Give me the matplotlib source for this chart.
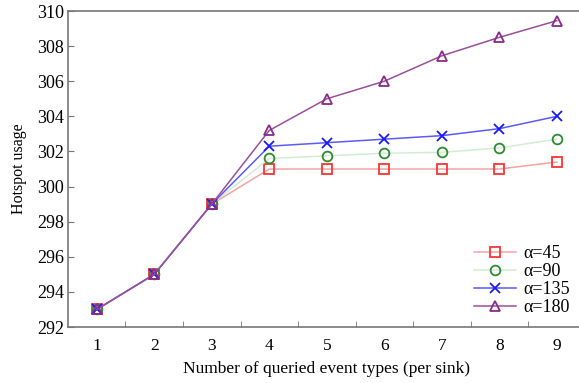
import matplotlib
matplotlib.use("Agg")
import matplotlib.pyplot as plt
import numpy as np

# Hotspot usage vs. number of queried event types, for four alpha settings
event_types = [1, 2, 3, 4, 5, 6, 7, 8, 9]
usage_a45 = [293, 295, 299, 301.0, 301.0, 301.0, 301.0, 301.0, 301.4]
usage_a90 = [293, 295, 299, 301.6, 301.75, 301.9, 301.95, 302.2, 302.7]
usage_a135 = [293, 295, 299, 302.3, 302.5, 302.7, 302.9, 303.3, 304.0]
usage_a180 = [293, 295, 299, 303.2, 305.0, 306.0, 307.45, 308.5, 309.45]

plt.rcParams["font.family"] = ["Liberation Serif", "DejaVu Serif"]

fig = plt.figure(figsize=(5.79, 3.83), dpi=100)
ax = fig.add_axes([0.1174, 0.1462, 0.894, 0.825])

series = [
    ("α=45", usage_a45, "#f5a3a3", "#ff3333", "s"),
    ("α=90", usage_a90, "#d4ebd4", "#2e8b2e", "o"),
    ("α=135", usage_a135, "#5a5aff", "#1a1aff", "x"),
    ("α=180", usage_a180, "#9a4f9a", "#8a2a8a", "^"),
]
for label, vals, lc, mc, mk in series:
    ax.plot(event_types, vals, color=lc, lw=1.1, marker=mk, ms=7,
            mec=mc, mfc="none", mew=1.3, label=label)

ax.set_xlim(0.5, 9.5)
ax.set_ylim(292, 310)
ax.set_xticks(event_types)
ax.set_xticks(np.arange(1.5, 9.0, 1.0), minor=True)
ax.set_yticks(np.arange(292, 311, 2))
ax.tick_params(axis="x", which="major", length=0, pad=8, labelsize=12.5)
ax.tick_params(axis="x", which="minor", direction="in", length=4, color="#777777")
ax.tick_params(axis="y", direction="in", length=4, color="#777777", labelsize=13,
               pad=3)

for side in ["left", "bottom", "top"]:
    ax.spines[side].set_color("#777777")
    ax.spines[side].set_linewidth(1.2)
ax.spines["right"].set_visible(False)

ax.set_xlabel("Number of queried event types (per sink)", fontsize=12.5, labelpad=5)
ax.set_ylabel("Hotspot usage", fontsize=11.5, labelpad=7)

ax.legend(loc="lower right", bbox_to_anchor=(0.99, 0.0), frameon=False,
          fontsize=13, handlelength=2.3, labelspacing=0.05, borderaxespad=0.2,
          handletextpad=0.4)

fig.savefig("out.png", dpi=100)
